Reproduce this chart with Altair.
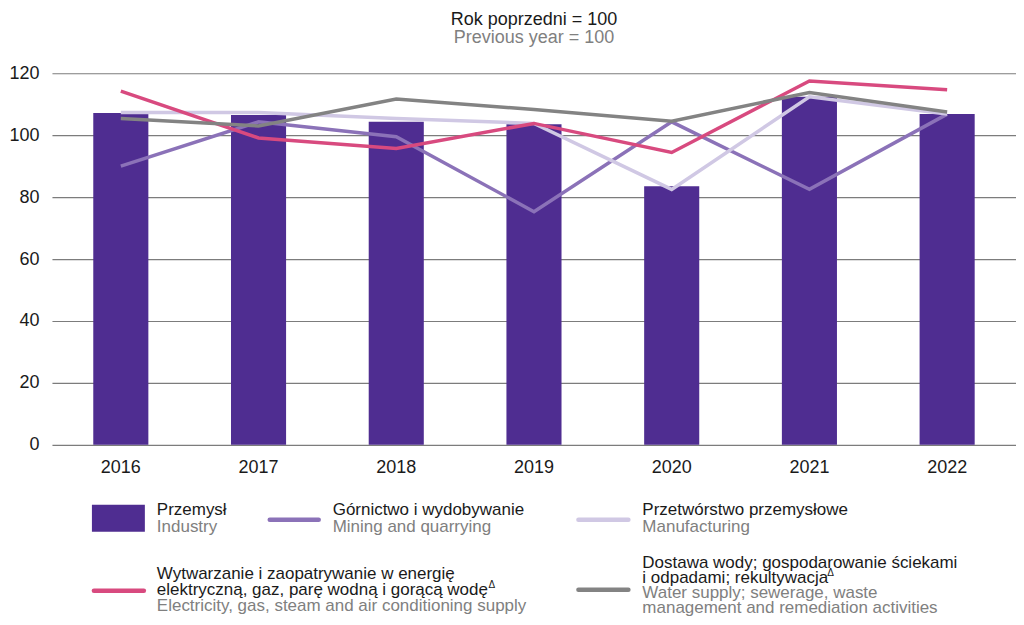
import altair as alt
import pandas as pd

FONT = "Liberation Sans"

years = ["2016", "2017", "2018", "2019", "2020", "2021", "2022"]
industry = [107.2, 106.5, 104.3, 103.5, 83.5, 112.4, 106.8]
mining = [90.0, 104.3, 99.5, 75.3, 104.3, 82.5, 106.8]
manufacturing = [107.3, 107.3, 105.4, 103.8, 82.5, 112.4, 106.8]
electricity = [114.2, 99.1, 95.7, 103.8, 94.4, 117.5, 114.7]
water = [105.4, 103.0, 111.7, 108.3, 104.5, 113.8, 107.5]

y_ticks = [0, 20, 40, 60, 80, 100, 120]

series_names = ["mining", "manufacturing", "electricity", "water"]
series_values = [mining, manufacturing, electricity, water]
series_colors = ["#8B72B8", "#D0C8E4", "#D84A7F", "#838383"]

W, H = 965, 372

x_enc = alt.X(
    "year:N",
    scale=alt.Scale(paddingInner=0.6, paddingOuter=0.3),
    axis=alt.Axis(title=None, labelAngle=0, domain=False, ticks=False,
                  labelPadding=14, labelFontSize=18, labelColor="#1a1a1a",
                  labelFont=FONT),
)
y_enc = alt.Y(
    "value:Q",
    scale=alt.Scale(domain=[0, 120]),
    axis=alt.Axis(title=None, values=y_ticks, grid=True, gridColor="#7c7c7c",
                  gridWidth=1.2, domain=False, ticks=False, labelPadding=13,
                  labelFontSize=18, labelColor="#1a1a1a", labelFont=FONT),
)

bars = alt.Chart(pd.DataFrame({"year": years, "value": industry})).mark_bar(
    color="#4F2D91"
).encode(x=x_enc, y=y_enc)

layers = [bars]
for name, vals, col in zip(series_names, series_values, series_colors):
    d = pd.DataFrame({"year": years, "value": vals})
    layers.append(
        alt.Chart(d).mark_line(color=col, strokeWidth=3.5).encode(
            x=alt.X("year:N"), y=alt.Y("value:Q")
        )
    )

one = pd.DataFrame({"k": [0]})
LF = 17


def txt(x, y, s, color, size=LF):
    return alt.Chart(one).mark_text(
        align="left", baseline="alphabetic", fontSize=size, color=color, font=FONT
    ).encode(x=alt.value(x), y=alt.value(y), text=alt.value(s))


def swatch_line(x1, x2, y, color):
    return alt.Chart(one).mark_rule(color=color, strokeWidth=4.5, strokeCap="round").encode(
        x=alt.value(x1), x2=alt.value(x2), y=alt.value(y)
    )


DARK = "#1a1a1a"
GRAY = "#808080"

legend = [
    alt.Chart(one).mark_rect(color="#4F2D91").encode(
        x=alt.value(40), x2=alt.value(93), y=alt.value(432), y2=alt.value(459)
    ),
    txt(105, 442, "Przemysł", DARK),
    txt(105, 459, "Industry", GRAY),
    swatch_line(218, 267, 447, series_colors[0]),
    txt(281, 442, "Górnictwo i wydobywanie", DARK),
    txt(281, 459, "Mining and quarrying", GRAY),
    swatch_line(527, 577, 447, series_colors[1]),
    txt(591, 442, "Przetwórstwo przemysłowe", DARK),
    txt(591, 459, "Manufacturing", GRAY),
    swatch_line(42, 92, 518, series_colors[2]),
    txt(105, 506, "Wytwarzanie i zaopatrywanie w energię", DARK),
    txt(105, 522, "elektryczną, gaz, parę wodną i gorącą wodę", DARK),
    txt(437, 515, "Δ", DARK, 10),
    txt(105, 538, "Electricity, gas, steam and air conditioning supply", GRAY),
    swatch_line(527, 577, 517, series_colors[3]),
    txt(591, 495, "Dostawa wody; gospodarowanie ściekami", DARK),
    txt(591, 510, "i odpadami; rekultywacja", DARK),
    txt(776, 503, "Δ", DARK, 10),
    txt(591, 525, "Water supply; sewerage, waste", GRAY),
    txt(591, 540, "management and remediation activities", GRAY),
]

chart = alt.layer(*layers, *legend).properties(
    width=W,
    height=H,
    padding={"left": 0, "top": 3, "right": 0, "bottom": 3},
    title=alt.TitleParams(
        text="Rok poprzedni = 100",
        subtitle="Previous year = 100",
        fontSize=18,
        subtitleFontSize=18,
        font=FONT,
        subtitleFont=FONT,
        fontWeight="normal",
        color=DARK,
        subtitleColor=GRAY,
        anchor="middle",
        subtitlePadding=0,
        offset=17,
    ),
).configure_view(stroke=None)

chart.save("out.html", embed_options={"renderer": "svg", "actions": False})
